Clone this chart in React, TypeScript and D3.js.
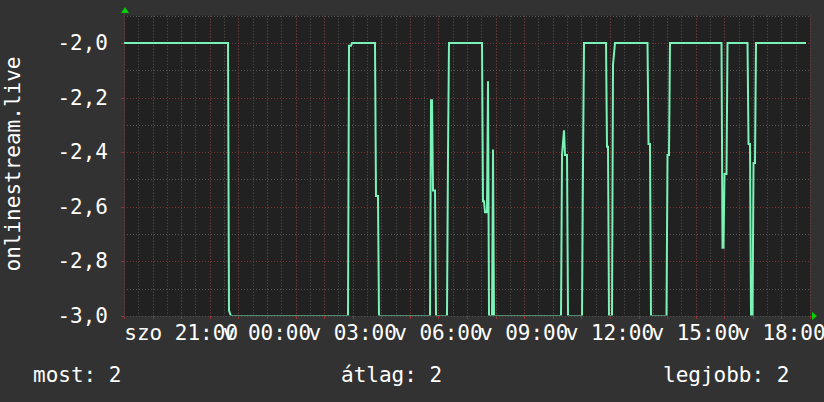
import React from "react";
import * as d3 from "d3";

// time in hours since Sat 19:00, value of the series
const hours = [
  0, 3.639, 3.673, 3.743, 7.837, 7.872, 7.942, 7.977, 8.781, 8.816, 8.886, 8.921,
  10.706, 10.741, 10.776, 10.811, 10.881, 10.916, 11.3, 11.335, 11.37,
  12.525, 12.56, 12.595, 12.63, 12.7, 12.735, 12.77, 12.875, 12.91, 12.945,
  15.289, 15.324, 15.394, 15.429, 15.499, 15.534,
  16.024, 16.059, 16.094, 16.863, 16.898, 16.933, 16.968, 17.073, 17.108, 17.178,
  18.315, 18.35, 18.402, 18.437, 18.98, 19.015, 19.067, 19.102,
  20.904, 20.939, 20.974, 21.009, 21.079, 21.114,
  21.814, 21.849, 21.901, 21.936, 21.989, 22.024, 22.076, 22.111, 23.86,
];
const values = [
  -2.0, -2.0, -2.98, -3.0, -3.0, -2.01, -2.01, -2.0, -2.0, -2.56, -2.56, -3.0,
  -3.0, -2.21, -2.21, -2.54, -2.54, -3.0, -3.0, -2.41, -2.0,
  -2.0, -2.58, -2.58, -2.62, -2.62, -2.14, -3.0, -3.0, -2.39, -3.0,
  -3.0, -2.41, -2.32, -2.41, -2.41, -3.0,
  -3.0, -2.43, -2.0, -2.0, -2.38, -2.38, -3.0, -3.0, -2.08, -2.0,
  -2.0, -2.37, -2.37, -3.0, -3.0, -2.41, -2.41, -2.0,
  -2.0, -2.75, -2.75, -2.48, -2.48, -2.0,
  -2.0, -2.37, -2.37, -3.0, -3.0, -2.44, -2.44, -2.0, -2.0,
];

const yTicks = [-3.0, -2.8, -2.6, -2.4, -2.2, -2.0];
const xTickHours = [2, 5, 8, 11, 14, 17, 20, 23];
const xTickLabels = ["szo 21:00", "v 00:00", "v 03:00", "v 06:00", "v 09:00", "v 12:00", "v 15:00", "v 18:00"];
const yAxisTitle = "onlinestream.live";
const legendLabels = ["most: 2", "átlag: 2", "legjobb: 2"];

const W = 824;
const H = 402;
const L = 124;
const R = 810;
const T = 15.7;
const B = 316;
const FONT = "'DejaVu Sans Mono', monospace";

export default function App() {
  const x = d3.scaleLinear().domain([0, 24]).range([L, R]);
  const y = d3.scaleLinear().domain([-3, -1.9]).range([B, T]);
  const pts = hours.map((h, i) => [h, values[i]] as [number, number]);
  const line = d3
    .line<[number, number]>()
    .x((d) => x(d[0]))
    .y((d) => y(d[1]));

  const minorY = d3.range(0, 12).map((i) => -3 + i * 0.1);
  const minorX = d3.range(0, 49).map((i) => i * 0.5);
  const legendX = [33, 341, 663];
  const fmt = (v: number) => v.toFixed(1).replace(".", ",");

  return (
    <svg width={W} height={H} style={{ position: "absolute", left: 0, top: 0, display: "block" }}>
      <defs>
        <clipPath id="plotclip">
          <rect x={L} y={T} width={R - L} height={B - 0.5 - T} />
        </clipPath>
      </defs>
      <rect x={0} y={0} width={W} height={H} fill="#323232" />
      <rect x={L} y={T} width={R - L} height={B - T} fill="#212121" />
      {/* minor grid */}
      {minorY.map((v, i) => (
        <line key={"hy" + i} x1={L} x2={R} y1={Math.round(y(v)) + 0.5} y2={Math.round(y(v)) + 0.5}
          stroke="#565656" strokeDasharray="1,2" />
      ))}
      {minorX.map((h, i) => (
        <line key={"vx" + i} x1={Math.round(x(h)) + 0.5} x2={Math.round(x(h)) + 0.5} y1={T} y2={B}
          stroke="#565656" strokeDasharray="1,2" />
      ))}
      {/* major grid */}
      {yTicks.map((v, i) => (
        <line key={"my" + i} x1={L} x2={R} y1={Math.round(y(v)) + 0.5} y2={Math.round(y(v)) + 0.5}
          stroke="#7a3434" strokeDasharray="1,2" />
      ))}
      {d3.range(0, 25).map((h) => (
        <line key={"mx" + h} x1={Math.round(x(h)) + 0.5} x2={Math.round(x(h)) + 0.5} y1={T} y2={B}
          stroke="#7a3434" strokeDasharray="1,2" />
      ))}
      {/* tick marks */}
      {d3.range(0, 25).map((h) => (
        <line key={"tx" + h} x1={Math.round(x(h)) + 0.5} x2={Math.round(x(h)) + 0.5} y1={B} y2={B + 3}
          stroke="#a03030" />
      ))}
      {yTicks.map((v, i) => (
        <line key={"ty" + i} x1={L - 3} x2={L} y1={Math.round(y(v)) + 0.5} y2={Math.round(y(v)) + 0.5}
          stroke="#a03030" />
      ))}
      {/* data */}
      <path d={line(pts) || ""} fill="none" stroke="#7af2b8" strokeWidth={2} clipPath="url(#plotclip)" />
      {/* axes */}
      <line x1={L} x2={R + 2} y1={B + 0.5} y2={B + 0.5} stroke="#505050" strokeDasharray="1,2" />
      <line x1={L + 0.5} x2={L + 0.5} y1={T - 2} y2={B} stroke="#505050" strokeDasharray="1,2" />
      <path d={`M${L - 3},${13} L${L + 1},${7} L${L + 5},${13} Z`} fill="#00d000" />
      <path d={`M${R + 2},${B - 4} L${R + 7},${B} L${R + 2},${B + 4} Z`} fill="#00d000" />
      {/* y labels */}
      {yTicks.map((v, i) => (
        <text key={"yl" + i} x={108} y={y(v) + 7} textAnchor="end" fill="#ffffff"
          fontFamily={FONT} fontSize={21}>{fmt(v)}</text>
      ))}
      {/* x labels */}
      {xTickHours.map((h, i) => (
        <text key={"xl" + i} x={x(h)} y={340} textAnchor="middle" fill="#ffffff"
          fontFamily={FONT} fontSize={21} style={{ whiteSpace: "pre" }}>{xTickLabels[i]}</text>
      ))}
      <text transform={`translate(20,164) rotate(-90)`} textAnchor="middle" fill="#ffffff"
        fontFamily={FONT} fontSize={21}>{yAxisTitle}</text>
      {legendLabels.map((t, i) => (
        <text key={"lg" + i} x={legendX[i]} y={382} fill="#ffffff" fontFamily={FONT} fontSize={21}>{t}</text>
      ))}
    </svg>
  );
}
